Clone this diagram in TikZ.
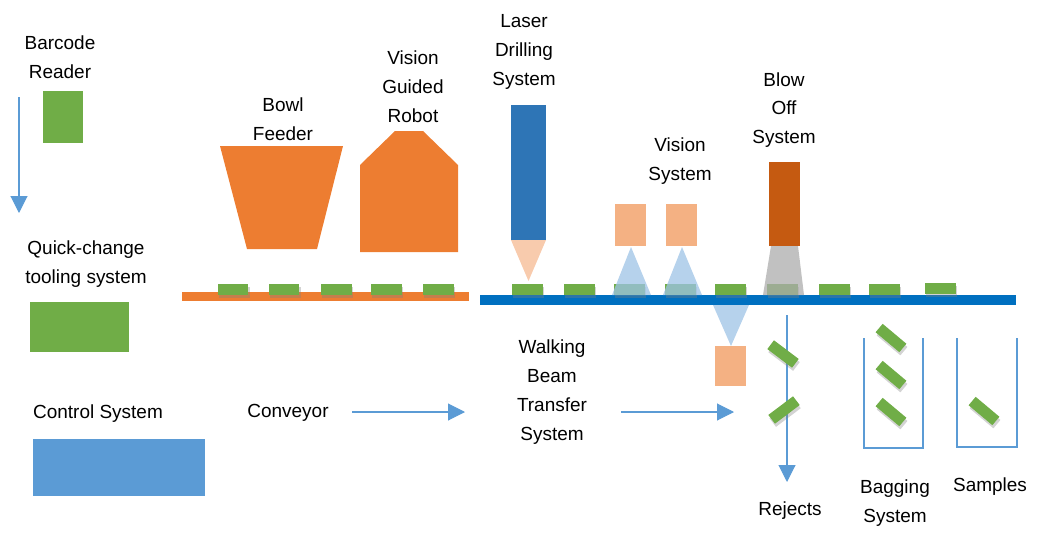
\documentclass[tikz,border=0pt]{standalone}
\usepackage{fontspec}
\setmainfont{Liberation Sans}
\usetikzlibrary{arrows.meta,shadows}
\definecolor{partgreen}{HTML}{70AD47}
\definecolor{feedorange}{HTML}{ED7D31}
\definecolor{peach}{HTML}{F4B183}
\definecolor{lightpeach}{HTML}{F8CBAD}
\definecolor{beltblue}{HTML}{0070C0}
\definecolor{laserblue}{HTML}{2E75B6}
\definecolor{ctrlblue}{HTML}{5B9BD5}
\definecolor{lineblue}{HTML}{5B9BD5}
\definecolor{conelblue}{HTML}{9DC3E6}
\definecolor{blowbrown}{HTML}{C55A11}

\begin{document}
\begin{tikzpicture}[
  x=0.02cm, y=-0.02cm,
  txt/.style={align=center, font=\fontsize{10.8}{16.4}\selectfont, inner sep=0pt},
  part/.style={fill=partgreen, minimum width=0.62cm, minimum height=0.22cm, inner sep=0pt,
               drop shadow={shadow xshift=0.6pt, shadow yshift=-1.8pt, opacity=0.35}},
  beam/.style={fill=conelblue, opacity=0.75},
  flow/.style={draw=lineblue, line width=0.6pt, -{Triangle[length=0.34cm,width=0.34cm]}},
  bin/.style={draw=lineblue, line width=0.6pt}
]
\useasboundingbox (0,0) rectangle (1045,558);

% left column
\node[txt] (barcode) at (60,57) {Barcode\\Reader};
\fill[partgreen] (43,91) rectangle (83,143);
\node[txt] (quick) at (86,264) {Quick-change\\tooling system};
\fill[partgreen] (30,302) rectangle (129,352);
\node[txt] (control) at (98,414) {Control System};
\fill[ctrlblue] (33,439) rectangle (205,496);
\coordinate (down1) at (19,97);
\coordinate (down2) at (19,213);
\draw[flow] (down1) -- (down2);

% feeder and robot
\node[txt] (bowl) at (283,119) {Bowl\\Feeder};
\fill[feedorange] (220,146) -- (343,146) -- (317,249) -- (247,249) -- cycle;
\node[txt] (robot) at (413,87) {Vision\\Guided\\Robot};
\fill[feedorange] (360,252) -- (360,165) -- (395,131) -- (423,131) -- (458,165) -- (458,252) -- cycle;

% conveyors
\fill[feedorange] (182,292) rectangle (469,301);
\fill[beltblue] (480,295) rectangle (1016,305);
\foreach \px [count=\i] in {233,284,336,386,438}
  \node[part] (fp\i) at (\px,289.5) {};
\foreach \px [count=\i] in {527,579,629,680,730,782,834,884}
  \node[part] (wp\i) at (\px,289) {};
\node[part] (wp9) at (940,288) {};

% stations
\node[txt] (laser) at (524,52) {Laser\\Drilling\\System};
\fill[laserblue] (511,105) rectangle (546,240);
\fill[lightpeach] (511,240) -- (546,240) -- (528.5,281) -- cycle;
\node[txt] (vision) at (680,161) {Vision\\System};
\fill[peach] (615,204) rectangle (646,246);
\fill[peach] (666,204) rectangle (697,246);
\fill[beam] (631,247) -- (651,295) -- (612,295) -- cycle;
\fill[beam] (682,247) -- (702,295) -- (663,295) -- cycle;
\node[txt] (blow) at (784,110) {Blow\\Off\\System};
\fill[blowbrown] (769,162) rectangle (800,246);
\fill[gray!65, opacity=0.75] (771,246) -- (798,246) -- (804,295) -- (763,295) -- cycle;
\fill[beam] (713,305) -- (749,305) -- (731,346) -- cycle;
\fill[peach] (715,346) rectangle (746,386);

% transfer
\node[txt] (conveyor) at (288,413) {Conveyor};
\coordinate (c1) at (352,412);
\coordinate (c2) at (465,412);
\draw[flow] (c1) -- (c2);
\node[txt] (walking) at (552,392) {Walking\\Beam\\Transfer\\System};
\coordinate (w1) at (621,412);
\coordinate (w2) at (734,412);
\draw[flow] (w1) -- (w2);

% outputs
\coordinate (r1) at (787,315);
\coordinate (r2) at (787,482);
\draw[flow] (r1) -- (r2);
\node[part, rotate=-37] (rj1) at (783,354) {};
\node[part, rotate=37] (rj2) at (784,410) {};
\node[txt] (rejects) at (790,511) {Rejects};
\draw[bin] (864,338) |- (923,448) -- (923,338);
\node[part, rotate=-40] (bg1) at (891,338) {};
\node[part, rotate=-40] (bg2) at (891,375) {};
\node[part, rotate=-40] (bg3) at (891,412) {};
\node[txt] (bagging) at (895,503) {Bagging\\System};
\draw[bin] (957,338) |- (1017,447) -- (1017,338);
\node[part, rotate=-40] (sp1) at (984,411) {};
\node[txt] (samples) at (990,487) {Samples};
\end{tikzpicture}
\end{document}
